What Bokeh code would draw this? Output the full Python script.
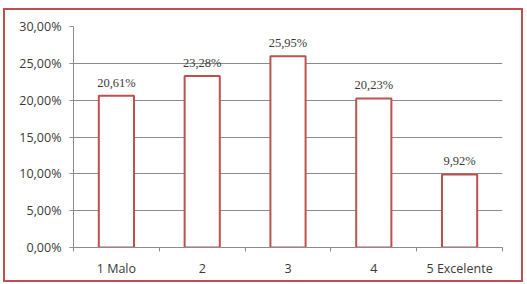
from bokeh.plotting import figure
from bokeh.models import ColumnDataSource, FixedTicker, CustomJSTickFormatter, Range1d, LabelSet
from bokeh.embed import file_html
from bokeh.resources import INLINE

categories = ["1 Malo", "2", "3", "4", "5 Excelente"]
values = [20.61, 23.28, 25.95, 20.23, 9.92]
value_labels = ["20,61%", "23,28%", "25,95%", "20,23%", "9,92%"]
y_ticks = [0, 5, 10, 15, 20, 25, 30]

RED = "#c0504d"
GRID = "#8c8c8c"
TEXT = "#3a3a3a"
FONT = "Open Sans"
FS = "12.5px"

xs = [i + 0.5 for i in range(len(categories))]
src = ColumnDataSource(dict(x=xs, top=values, lab=value_labels))

p = figure(width=520, height=274, output_backend="svg", toolbar_location=None,
           x_range=Range1d(0, 5), y_range=Range1d(0, 30),
           min_border_left=68, min_border_right=23, min_border_top=16, min_border_bottom=37)
p.margin = (8, 0, 0, 3)
p.styles = {"border": f"2px solid {RED}", "box-sizing": "border-box"}
p.outline_line_color = None
p.background_fill_color = "white"
p.border_fill_color = "white"

p.vbar(x="x", top="top", width=0.41, bottom=-1, source=src,
       fill_color="white", line_color=RED, line_width=2)

p.add_layout(LabelSet(x="x", y="top", text="lab", source=src, text_align="center",
                      text_baseline="bottom", y_offset=6, text_font=FONT,
                      text_font_size=FS, text_color=TEXT))

# y axis
p.yaxis.ticker = FixedTicker(ticks=y_ticks)
p.yaxis.formatter = CustomJSTickFormatter(code="return tick.toFixed(2).replace('.', ',') + '%';")
p.yaxis.axis_line_color = GRID
p.yaxis.major_tick_line_color = GRID
p.yaxis.major_tick_out = 4
p.yaxis.major_tick_in = 0
p.yaxis.minor_tick_line_color = None
p.yaxis.major_label_standoff = 8
p.yaxis.major_label_text_font = FONT
p.yaxis.major_label_text_font_size = FS
p.yaxis.major_label_text_color = TEXT

# x axis
p.xaxis.ticker = FixedTicker(ticks=xs, minor_ticks=[i for i in range(len(categories) + 1)])
p.xaxis.major_label_overrides = {x: c for x, c in zip(xs, categories)}
p.xaxis.axis_line_color = GRID
p.xaxis.major_tick_line_color = None
p.xaxis.minor_tick_line_color = GRID
p.xaxis.minor_tick_out = 4
p.xaxis.minor_tick_in = 0
p.xaxis.major_label_standoff = 6
p.xaxis.major_label_text_font = FONT
p.xaxis.major_label_text_font_size = FS
p.xaxis.major_label_text_color = TEXT

p.xgrid.grid_line_color = None
p.ygrid.grid_line_color = GRID
p.ygrid.ticker = FixedTicker(ticks=y_ticks)

open("out.html", "w").write(file_html(p, INLINE))
